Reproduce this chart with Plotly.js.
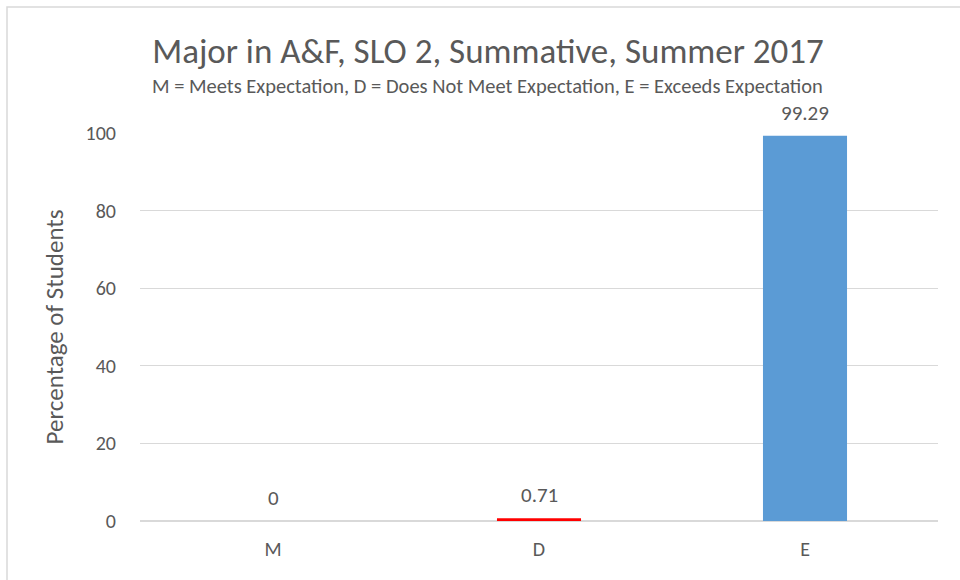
<!DOCTYPE html>
<html><head><meta charset="utf-8">
<script src="https://cdn.plot.ly/plotly-3.0.1.min.js"></script>
<style>html,body{margin:0;padding:0;background:#fff}#chart{width:960px;height:580px}</style>
</head><body><div id="chart"></div>
<script>
const categories = ["M", "D", "E"];
const values = [0, 0.71, 99.29];
const valueLabels = ["0", "0.71", "99.29"];
const barColors = ["#5B9BD5", "#FF0000", "#5B9BD5"];
const yTicks = [0, 20, 40, 60, 80, 100];

const FONT = "Calibri, Carlito, Lato, 'Open Sans', sans-serif";
const GREY = "#595959";

const trace = {
  type: "bar",
  x: categories,
  y: values,
  marker: {color: barColors, line: {width: 0}},
  width: 0.316,
  hoverinfo: "none"
};

const L = 140, R = 22, T = 133, B = 59;
const pw = 960 - L - R, ph = 580 - T - B;
const px = v => (v - L) / pw;
const py = v => (580 - B - v) / ph;

const dataLabels = categories.map((c, i) => ({
  x: c, y: values[i], xref: "x", yref: "y",
  text: valueLabels[i], showarrow: false,
  xanchor: "center", yanchor: "bottom", yshift: 9, borderpad: 0,
  font: {family: FONT, size: 21, color: GREY}
}));

const layout = {
  width: 960, height: 580,
  margin: {l: L, r: R, t: T, b: B, pad: 0},
  paper_bgcolor: "#fff", plot_bgcolor: "#fff",
  showlegend: false,
  font: {family: FONT, color: GREY},
  title: {
    text: "Major in A&F, SLO 2, Summative, Summer 2017",
    font: {family: FONT, size: 35, color: GREY},
    x: px(488), xanchor: "center", xref: "paper",
    y: 1 - 51/580, yanchor: "middle", yref: "container"
  },
  annotations: [{
    text: "M = Meets Expectation, D = Does Not Meet Expectation, E = Exceeds Expectation",
    xref: "paper", yref: "paper",
    x: px(487), y: py(86), xanchor: "center", yanchor: "middle",
    showarrow: false, borderpad: 0,
    font: {family: FONT, size: 20.5, color: GREY}
  }].concat(dataLabels),
  xaxis: {
    type: "category",
    tickfont: {family: FONT, size: 20, color: GREY},
    showgrid: false, showline: false, zeroline: false,
    ticks: "", ticklen: 0, ticklabelstandoff: 14
  },
  yaxis: {
    range: [0, 100],
    tickvals: yTicks,
    ticktext: yTicks.map(String),
    tickfont: {family: FONT, size: 20, color: GREY},
    showgrid: true, gridcolor: "#D9D9D9", gridwidth: 1,
    zeroline: true, zerolinecolor: "#D9D9D9", zerolinewidth: 1.5,
    showline: false, ticks: "", ticklabelstandoff: 23,
    title: {text: "Percentage of Students", font: {family: FONT, size: 25, color: GREY}, standoff: 14}
  },
  shapes: [{
    type: "rect", xref: "paper", yref: "paper",
    x0: px(7), x1: px(975), y0: py(595), y1: py(7),
    line: {color: "#D9D9D9", width: 1.5}, fillcolor: "rgba(0,0,0,0)", layer: "below"
  }]
};

Plotly.newPlot("chart", [trace], layout, {staticPlot: true, displayModeBar: false});
</script>
</body></html>
